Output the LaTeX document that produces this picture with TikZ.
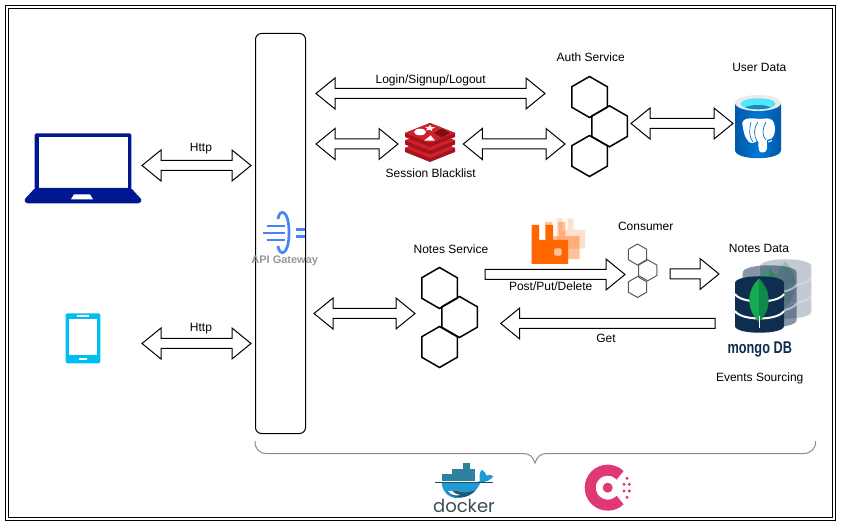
\documentclass[tikz,border=0pt]{standalone}
\usepackage{fontspec}
\setmainfont{Liberation Sans}
\newfontfamily\dockerfont{Poppins}
\usetikzlibrary{calc,shapes.geometric}
\definecolor{laptopblue}{HTML}{00188F}
\definecolor{phoneblue}{HTML}{00BEF2}
\definecolor{gatewayblue}{HTML}{4285F4}
\definecolor{redisdark}{HTML}{A5141E}
\definecolor{redistop}{HTML}{D0202A}
\definecolor{rabbitorange}{HTML}{FF6600}
\definecolor{mongonavy}{HTML}{0F2D4F}
\definecolor{mongoleafA}{HTML}{13AA52}
\definecolor{mongoleafB}{HTML}{10884A}
\definecolor{consulpink}{HTML}{E03875}
\definecolor{whaleblue}{HTML}{1E9BD4}
\definecolor{boxteal}{HTML}{2F7F9E}
\definecolor{dockergray}{HTML}{3A4D54}
\definecolor{pgdark}{HTML}{0058A8}
\definecolor{pgmid}{HTML}{0078D4}
\definecolor{pgcyan}{HTML}{50E6FF}
\definecolor{pgteal}{HTML}{198AB3}
\tikzset{
  svctext/.style={font=\fontsize{12}{14}\selectfont,inner sep=0pt},
  hexa/.style={draw,regular polygon,regular polygon sides=6,shape border rotate=30,inner sep=0pt,line width=1.5pt},
  gatewayline/.style={gatewayblue,line width=2.7pt},
  blockboth/.style={to path={let \p1=(\tikztostart),\p2=(\tikztotarget) in
    (\x1,\y1) -- (\x1+19pt,\y1+15.5pt) -- (\x1+19pt,\y1+5pt) -- (\x2-19pt,\y2+5pt) -- (\x2-19pt,\y2+15.5pt) -- (\x2,\y2)
    -- (\x2-19pt,\y2-15.5pt) -- (\x2-19pt,\y2-5pt) -- (\x1+19pt,\y1-5pt) -- (\x1+19pt,\y1-15.5pt) -- cycle}},
  blockone/.style={to path={let \p1=(\tikztostart),\p2=(\tikztotarget),\n1={ifthenelse(\x2>\x1,19,-19)} in
    (\x1,\y1+5pt) -- (\x2-\n1,\y2+5pt) -- (\x2-\n1,\y2+15.5pt) -- (\x2,\y2)
    -- (\x2-\n1,\y2-15.5pt) -- (\x2-\n1,\y2-5pt) -- (\x1,\y1-5pt) -- cycle}}
}
\newcommand{\mongostack}{%
  \fill[mongonavy] (0,7) .. controls (0,-2) and (49,-2) .. (49,7) -- (49,50) .. controls (49,59) and (0,59) .. (0,50) -- cycle;
  \draw[white,line width=2pt] (0,18) .. controls (6,28) and (43,28) .. (49,18);
  \draw[white,line width=2pt] (0,35) .. controls (6,45) and (43,45) .. (49,35);
  \fill[mongoleafA] (24,2.5) .. controls (12,14) and (10,32) .. (24,46) -- cycle;
  \fill[mongoleafB] (24,2.5) .. controls (36,14) and (38,32) .. (24,46) -- cycle;
  \draw[white,line width=.8pt] (24,40) -- (24,52);
}
\newcommand{\rabbit}{%
  \fill[rabbitorange] (0,0) -- (7.5,0) -- (7.5,15) -- (14,15) -- (14,0) -- (21.5,0) -- (21.5,15) -- (36.5,15) -- (36.5,39) -- (0,39) -- cycle;
}
\begin{document}
\begin{tikzpicture}[x=1pt,y=-1pt,line width=1pt]
\useasboundingbox (0,0) rectangle (841,529);
\draw (5.5,5.5) rectangle (835.5,520.5);
\draw (8.5,8.5) rectangle (832.5,517.5);

% clients
\fill[laptopblue,rounded corners=2pt] (34.7,133.3) rectangle (131.3,190);
\fill[white] (38.7,136.7) rectangle (128.3,187.7);
\fill[laptopblue,rounded corners=1.5pt] (35,188) -- (131,188) -- (142,200) -- (140,203.3) -- (26,203.3) -- (24,200) -- cycle;
\fill[white] (74,194.3) -- (90,194.3) -- (93,199.3) -- (71,199.3) -- cycle;
\fill[phoneblue,rounded corners=2pt] (65.7,313.3) rectangle (100.3,363.3);
\fill[white] (68.7,318.7) rectangle (97.3,355);
\fill[white] (76.7,315.3) rectangle (89.3,317);
\fill[white] (79.3,358) rectangle (87,360);

% gateway
\node[draw,rounded corners=6pt,minimum width=50pt,minimum height=400pt,inner sep=0pt] (gateway) at (280.5,233.5) {};
\draw[gatewayline] (278,219) .. controls (279,209) and (289,208) .. (289,232.5) .. controls (289,257) and (279,256) .. (278,246);
\draw[gatewayline] (266.7,226) -- (285,226);
\draw[gatewayline] (263.3,233) -- (285,233);
\draw[gatewayline] (266.7,240) -- (285,240);
\draw[gatewayline] (295.7,229.3) -- (305,229.3);
\draw[gatewayline] (295.7,236.7) -- (305,236.7);
\node[inner sep=0pt,text=black!40,font=\fontsize{11}{12}\selectfont\bfseries] (gatewaytext) at (284.7,261) {API Gateway};

% services
\node[hexa,minimum size=41pt] (authtop) at (589.5,97) {};
\node[hexa,minimum size=41pt] (authmid) at (609.5,126.3) {};
\node[hexa,minimum size=41pt] (authbot) at (589.5,156) {};
\node[hexa,minimum size=41pt] (notestop) at (439.5,288) {};
\node[hexa,minimum size=41pt] (notesmid) at (459.5,317) {};
\node[hexa,minimum size=41pt] (notesbot) at (439.5,347) {};
\node[hexa,minimum size=21pt,line width=1pt,draw=black!65] (constop) at (637.5,254.5) {};
\node[hexa,minimum size=21pt,line width=1pt,draw=black!65] (consmid) at (647.7,270.3) {};
\node[hexa,minimum size=21pt,line width=1pt,draw=black!65] (consbot) at (637.5,287) {};

% redis
\foreach \dy in {15,7.5,0}
{
\fill[redisdark] (405,133+\dy) -- (405,137+\dy) -- (430,147+\dy) -- (455,137+\dy) -- (455,133+\dy) -- (430,123+\dy) -- cycle;
\fill[redistop] (405,133+\dy) -- (430,123+\dy) -- (455,133+\dy) -- (430,143+\dy) -- cycle;
}
\fill[white] (420,132) ellipse (6pt and 3.3pt);
\fill[white] (430,124.8) -- (431.2,126.8) -- (435,127.4) -- (431.8,129) -- (432.3,131) -- (429.3,129.7) -- (425.8,130.5) -- (427.5,128.5) -- (425,127) -- (428.8,126.8) -- cycle;
\fill[white] (430.7,135.3) -- (435,140.7) -- (424,140.7) -- cycle;
\fill[redisdark!75!black] (434,133) -- (441.7,128.5) -- (450,133) -- (441.7,137.5) -- cycle;

% postgres
\shade[left color=pgdark,right color=pgdark,middle color=pgmid] (735,103) -- (735,150) .. controls (735,161) and (781,161) .. (781,150) -- (781,103) -- cycle;
\fill[black!8] (758,103) ellipse (23pt and 8pt);
\fill[pgcyan] (758,103.8) ellipse (17.5pt and 5.5pt);
\begin{scope}
\clip (758,103.8) ellipse (17.5pt and 5.5pt);
\fill[pgteal] (758,109.5) ellipse (14pt and 4.5pt);
\end{scope}
\fill[white] plot[smooth cycle] coordinates {(742.5,122) (746,119) (752,118.3) (760,119) (768,118.5) (773,121) (775,128) (774,135) (771,139) (767,140) (767,148) (765,152) (760,152) (758.5,147) (758,141) (753,143) (749,142) (745,136) (743,128)};
\draw[pgmid,line width=.7pt] (751,122) .. controls (749,130) and (749,137) .. (753,142);
\draw[pgmid,line width=.7pt] (758,122) .. controls (753,129) and (754,136) .. (757,141);
\draw[pgmid,line width=.7pt] (766,122) .. controls (762,129) and (762,136) .. (766,140);
\draw[white,line width=1pt] (768,142) -- (772,140.5);

% rabbitmq
\begin{scope}[shift={(556.7,218.3)},scale=.78,opacity=.2]
\rabbit
\end{scope}
\begin{scope}[shift={(545,222)},scale=.95,opacity=.4]
\rabbit
\end{scope}
\begin{scope}[shift={(531.7,225)}]
\rabbit
\fill[white,opacity=.6,rounded corners=1.5pt] (22.3,23.3) rectangle (30,30.7);
\end{scope}

% mongo
\begin{scope}[shift={(760,259)},scale=1.05,opacity=.25]
\mongostack
\end{scope}
\begin{scope}[shift={(742.7,265)},scale=1.1,opacity=.5]
\mongostack
\end{scope}
\begin{scope}[shift={(735,276)}]
\mongostack
\end{scope}
\node[inner sep=0pt,text=mongonavy,font=\fontsize{17}{18}\selectfont\bfseries,xscale=.75] (mongotext) at (759.8,349.5) {mongo DB};

% block arrows
\coordinate (laptopend) at (142,165.5);
\coordinate (gatewayup) at (251,165.5);
\coordinate (phoneend) at (142,343.5);
\coordinate (gatewaylow) at (251,343.5);
\coordinate (loginfrom) at (316,93.5);
\coordinate (loginto) at (545,93.5);
\coordinate (blackfrom) at (316,144);
\coordinate (blackto) at (398,144);
\coordinate (redisend) at (463.3,144);
\coordinate (authend) at (565,144);
\coordinate (authright) at (631,123.5);
\coordinate (userdata) at (733,123.5);
\coordinate (gatewaynotes) at (314,313.5);
\coordinate (notesleft) at (415,313.5);
\coordinate (postfrom) at (485,274.5);
\coordinate (postto) at (625,274.5);
\coordinate (consright) at (670,274);
\coordinate (notesdata) at (719,274);
\coordinate (getfrom) at (715,323.5);
\coordinate (getto) at (500.7,323.5);
\draw[blockboth] (laptopend) to (gatewayup);
\draw[blockboth] (phoneend) to (gatewaylow);
\draw[blockboth] (loginfrom) to (loginto);
\draw[blockboth] (blackfrom) to (blackto);
\draw[blockboth] (redisend) to (authend);
\draw[blockboth] (authright) to (userdata);
\draw[blockboth] (gatewaynotes) to (notesleft);
\draw[blockone] (postfrom) to (postto);
\draw[blockone] (consright) to (notesdata);
\draw[blockone] (getfrom) to (getto);

% texts
\node[svctext] (httpup) at (201,148.5) {Http};
\node[svctext] (httplow) at (201,328.5) {Http};
\node[svctext] (logintext) at (430.7,80.5) {Login/Signup/Logout};
\node[svctext] (blacktext) at (430.7,173.3) {Session Blacklist};
\node[svctext] (authtext) at (590.7,57.7) {Auth Service};
\node[svctext] (usertext) at (759.3,67.3) {User Data};
\node[svctext] (notestext) at (451,249) {Notes Service};
\node[svctext] (constext) at (645.7,226.7) {Consumer};
\node[svctext] (posttext) at (550.7,286.7) {Post/Put/Delete};
\node[svctext] (gettext) at (606,338) {Get};
\node[svctext] (datatext) at (759,248.3) {Notes Data};
\node[svctext] (eventtext) at (759.7,378.5) {Events Sourcing};

% brace
\draw[black!45] (255,441) .. controls (255,449) and (259,453.5) .. (267,453.5) -- (523,453.5) .. controls (530,453.5) and (533,457) .. (535,463) .. controls (537,457) and (540,453.5) .. (547,453.5) -- (803,453.5) .. controls (811,453.5) and (815.7,449) .. (815.7,441);

% docker
\fill[boxteal] (441.7,474) rectangle (475,481.3);
\fill[boxteal] (451.7,468.7) rectangle (475,474);
\fill[boxteal] (462.7,462.7) rectangle (470,468.7);
\fill[whaleblue] (441.7,483) .. controls (443,493) and (449,498) .. (457,498) .. controls (469,498) and (477,491) .. (480.5,482.5) .. controls (486,482) and (491,480) .. (493.3,476.3) .. controls (490.5,474.5) and (488,474.5) .. (486.5,475.5) .. controls (486,473) and (484,471) .. (481.7,469.7) .. controls (479.5,472) and (479,477) .. (480,481) -- (475,483) -- cycle;
\fill[boxteal!70!black] (447,491.5) .. controls (453,499.5) and (468,499.5) .. (476,490) .. controls (468,493) and (461,493) .. (457,491) -- cycle;
\fill[white] (448,491.3) .. controls (451,495.7) and (457,496) .. (460,495) .. controls (456,494) and (453,492.5) .. (452,490.8) -- cycle;
\draw[boxteal!60!black,line width=.6pt] (435,482) -- (493,482);
\node[anchor=base,inner sep=0pt,text=dockergray,font=\dockerfont\fontsize{18}{20}\selectfont] (dockertext) at (464,512.3) {docker};

% consul
\draw[consulpink,line width=11pt] (620.1,475.3) arc[start angle=45,end angle=315,radius=17.5pt];
\fill[consulpink] (607.7,487.7) circle (5pt);
\foreach \dotx/\doty in {627/478.3,624/484.3,629.3/484.3,624/491,629.3/491,627/497.3}
{
\fill[consulpink] (\dotx,\doty) circle (1.7pt);
}
\end{tikzpicture}
\end{document}
